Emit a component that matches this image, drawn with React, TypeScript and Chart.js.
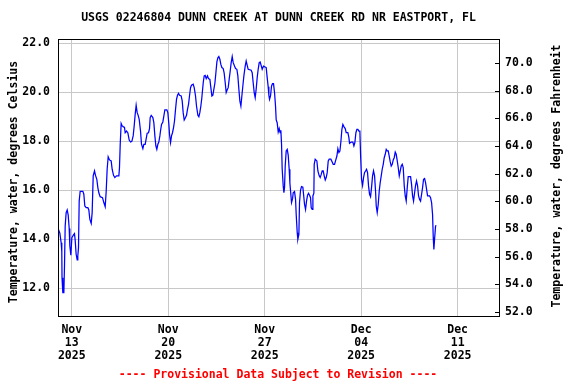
import React, { useEffect, useRef } from "react";
import { Chart, registerables } from "chart.js";

Chart.register(...registerables);

const chartTitle = "USGS 02246804 DUNN CREEK AT DUNN CREEK RD NR EASTPORT, FL";
const leftAxisTitle = "Temperature, water, degrees Celsius";
const rightAxisTitle = "Temperature, water, degrees Fahrenheit";
const footnote = "---- Provisional Data Subject to Revision ----";

// hours since 2025-11-12 00:00
const xTickHours = [24, 192, 360, 528, 696];
const xTickLabels = [
  ["Nov", "13", "2025"],
  ["Nov", "20", "2025"],
  ["Nov", "27", "2025"],
  ["Dec", "04", "2025"],
  ["Dec", "11", "2025"],
];
const celsiusTicks = [12, 14, 16, 18, 20, 22];
const fahrenheitTicks = [52, 54, 56, 58, 60, 62, 64, 66, 68, 70];

const readingHours = [
  0, 3.2, 5.5, 6.6, 7.0, 8.4, 10.2, 11.3, 12.5, 14.2,
  16.0, 17.7, 19.5, 20.6, 22.4, 24.1, 27.0, 28.7, 29.9, 31.6,
  33.4, 34.5, 35.7, 36.9, 38.6, 43.3, 45.0, 46.7, 49.1, 52.0,
  53.7, 55.4, 57.8, 59.5, 61.3, 63.6, 65.3, 67.6, 69.4, 71.1,
  73.4, 77.5, 79.8, 82.2, 83.9, 85.6, 87.4, 89.7, 92.6, 94.3,
  96.7, 99.0, 101.9, 106.0, 107.1, 108.3, 110.0, 111.8, 113.5, 115.8,
  117.0, 119.3, 121.6, 124.0, 126.3, 128.6, 130.9, 132.7, 134.4, 136.1,
  137.9, 139.6, 141.4, 143.7, 145.4, 147.8, 149.5, 151.8, 153.6, 155.3,
  157.6, 159.4, 160.5, 162.3, 165.2, 166.9, 168.7, 170.4, 172.1, 173.9,
  175.6, 177.4, 178.5, 180.3, 182.6, 184.3, 186.1, 189.6, 191.3, 193.1,
  194.2, 196.0, 197.7, 199.4, 201.2, 202.9, 204.7, 206.4, 208.1, 209.9,
  211.6, 214.5, 216.3, 218.0, 219.8, 222.1, 223.8, 225.6, 227.3, 229.0,
  230.8, 232.5, 235.4, 237.2, 239.5, 241.2, 243.6, 245.3, 247.0, 248.8,
  250.5, 252.9, 254.6, 256.3, 258.1, 260.4, 262.1, 264.5, 266.2, 268.0,
  269.7, 271.4, 273.2, 274.9, 276.7, 278.4, 280.1, 281.9, 283.6, 285.4,
  287.7, 289.4, 291.2, 292.9, 294.7, 296.4, 298.1, 299.9, 301.6, 303.4,
  305.1, 307.4, 309.2, 311.5, 313.2, 315.0, 316.7, 318.5, 320.2, 321.9,
  323.7, 326.0, 327.7, 329.5, 331.2, 336.4, 338.2, 339.9, 341.7, 343.4,
  345.2, 346.9, 348.6, 350.4, 352.1, 355.6, 357.9, 362.6, 364.3, 366.0,
  367.2, 368.4, 370.1, 371.9, 373.6, 375.3, 377.1, 378.8, 380.0, 381.7,
  383.5, 385.2, 386.9, 388.1, 389.3, 390.4, 392.2, 393.4, 394.5, 395.7,
  397.4, 399.2, 400.9, 402.6, 403.8, 405.0, 406.7, 408.5, 409.6, 411.9,
  413.7, 414.8, 416.6, 417.7, 419.5, 420.6, 422.4, 424.1, 426.4, 428.2,
  429.3, 431.1, 432.8, 434.6, 436.3, 438.1, 439.8, 441.0, 442.7, 443.9,
  445.6, 446.2, 447.9, 450.8, 452.6, 454.9, 456.6, 458.4, 460.1, 461.9,
  463.6, 465.4, 467.1, 468.8, 470.6, 472.3, 475.2, 477.5, 479.3, 481.6,
  483.3, 485.7, 487.4, 489.2, 490.9, 492.6, 494.4, 496.1, 497.9, 500.2,
  501.9, 504.8, 506.6, 507.7, 510.6, 513.5, 515.3, 517.0, 518.8, 520.5,
  522.2, 524.0, 525.7, 526.9, 528.6, 530.4, 532.1, 533.8, 535.6, 537.3,
  539.1, 540.8, 542.6, 544.3, 546.0, 547.8, 549.5, 551.3, 553.0, 554.2,
  555.9, 557.7, 559.4, 561.1, 562.9, 564.6, 566.4, 568.1, 569.9, 571.6,
  573.3, 575.1, 576.8, 578.6, 580.3, 582.1, 583.8, 585.5, 587.3, 589.0,
  590.8, 592.5, 594.3, 596.0, 597.7, 599.5, 601.2, 603.0, 604.7, 606.4,
  608.2, 609.9, 614.0, 615.7, 617.5, 619.2, 621.0, 622.7, 624.4, 626.2,
  627.9, 629.7, 631.4, 633.2, 634.9, 636.6, 638.4, 640.1, 641.9, 643.6,
  647.1, 648.8, 650.6, 652.3, 653.5, 654.6, 655.8, 657.5, 658.7,
];

const readingTempC = [
  14.45, 14.25, 13.86, 13.5, 12.43, 11.82, 11.82, 12.9, 14.54, 15.09,
  15.2, 15.0, 14.44, 13.73, 13.35, 14.07, 14.18, 14.23, 13.97, 13.39,
  13.16, 13.32, 13.66, 15.56, 15.96, 15.96, 15.84, 15.36, 15.29, 15.29,
  15.2, 14.82, 14.65, 15.09, 16.59, 16.79, 16.61, 16.45, 16.11, 15.9,
  15.74, 15.7, 15.5, 15.33, 15.95, 16.86, 17.37, 17.24, 17.2, 16.86,
  16.61, 16.52, 16.59, 16.59, 16.93, 17.84, 18.73, 18.63, 18.6, 18.57,
  18.35, 18.42, 18.35, 18.05, 17.97, 18.0, 18.22, 18.63, 19.1, 19.47,
  19.17, 19.06, 18.9, 18.42, 17.88, 17.7, 17.88, 17.88, 18.11, 18.33,
  18.35, 18.52, 18.97, 19.06, 18.97, 18.76, 18.22, 17.81, 17.67, 17.88,
  17.97, 18.22, 18.42, 18.69, 18.79, 19.03, 19.28, 19.28, 19.17, 18.69,
  18.29, 17.95, 18.22, 18.35, 18.56, 18.83, 19.31, 19.71, 19.88, 19.96,
  19.88, 19.85, 19.65, 19.17, 18.87, 18.97, 19.06, 19.31, 19.51, 19.85,
  20.19, 20.29, 20.33, 20.19, 19.85, 19.44, 19.06, 19.0, 19.17, 19.44,
  19.78, 20.39, 20.67, 20.69, 20.56, 20.67, 20.56, 20.53, 20.19, 19.85,
  19.88, 20.12, 20.37, 20.78, 21.24, 21.41, 21.46, 21.35, 21.14, 21.01,
  20.97, 20.78, 20.39, 19.99, 20.1, 20.19, 20.53, 20.87, 21.21, 21.46,
  21.21, 21.07, 20.97, 20.94, 20.67, 20.12, 19.65, 19.44, 19.85, 20.26,
  20.67, 21.07, 21.28, 21.1, 20.94, 20.9, 20.8, 20.39, 19.99, 19.78,
  20.15, 20.6, 20.94, 21.21, 21.24, 20.94, 21.07, 21.01, 20.6, 20.23,
  19.88, 19.71, 19.85, 20.26, 20.35, 20.35, 19.99, 19.44, 18.87, 18.76,
  18.38, 18.52, 18.35, 18.45, 17.88, 16.88, 16.18, 15.9, 16.11, 16.99,
  17.61, 17.67, 17.44, 16.86, 16.31, 15.97, 15.5, 15.66, 15.9, 15.95,
  15.63, 15.02, 14.27, 14.0, 14.2, 15.5, 16.01, 16.15, 16.13, 15.7,
  15.43, 15.22, 15.56, 15.8, 15.88, 15.8, 15.7, 15.29, 15.22, 15.77,
  15.88, 17.06, 17.27, 17.2, 16.79, 16.59, 16.52, 16.65, 16.79, 16.79,
  16.59, 16.42, 16.52, 16.72, 17.2, 17.27, 17.27, 17.16, 17.06, 17.06,
  17.2, 17.4, 17.7, 17.54, 17.6, 17.97, 18.49, 18.69, 18.6, 18.52,
  18.35, 18.35, 18.15, 17.92, 17.97, 17.97, 17.81, 17.95, 18.35, 18.49,
  18.49, 18.42, 18.42, 17.47, 16.45, 16.2, 16.52, 16.72, 16.79, 16.86,
  16.72, 16.18, 15.84, 15.74, 16.11, 16.59, 16.79, 16.59, 15.97, 15.36,
  15.09, 15.43, 15.97, 16.31, 16.59, 16.86, 17.06, 17.33, 17.47, 17.67,
  17.61, 17.61, 17.4, 17.16, 16.99, 17.06, 17.24, 17.33, 17.56, 17.47,
  17.2, 16.93, 16.59, 16.79, 16.99, 17.06, 16.93, 16.18, 15.77, 15.56,
  16.11, 16.56, 16.56, 16.24, 15.77, 15.56, 15.9, 16.2, 16.38, 16.18,
  15.77, 15.63, 15.56, 15.84, 16.11, 16.45, 16.48, 16.31, 16.04, 15.77,
  15.77, 15.7, 15.5, 15.02, 14.07, 13.59, 14.0, 14.54, 14.57,
];

const FONT_FAMILY = "'DejaVu Sans Mono', 'Liberation Mono', monospace";
const GRID_COLOR = "#c8c8c8";

const decorPlugin = {
  id: "usgsDecor",
  beforeDraw(chart: any) {
    const { ctx, width, height } = chart;
    ctx.save();
    ctx.fillStyle = "#ffffff";
    ctx.fillRect(0, 0, width, height);
    ctx.restore();
  },
  afterDraw(chart: any) {
    const { ctx, chartArea } = chart;
    const { left, right, top, bottom } = chartArea;
    ctx.save();
    // frame
    ctx.strokeStyle = "#000000";
    ctx.lineWidth = 1;
    ctx.strokeRect(Math.round(left) + 0.5, Math.round(top) + 0.5, Math.round(right - left), Math.round(bottom - top));
    // right axis inward tick marks
    const y2 = chart.scales.y2;
    ctx.beginPath();
    for (const v of fahrenheitTicks) {
      const py = Math.round(y2.getPixelForValue(v)) + 0.5;
      ctx.moveTo(Math.round(right) - 4, py);
      ctx.lineTo(Math.round(right) + 1, py);
    }
    ctx.stroke();

    ctx.fillStyle = "#000000";
    ctx.textAlign = "center";
    ctx.textBaseline = "middle";
    ctx.font = `bold 11.5px ${FONT_FAMILY}`;
    ctx.fillText(chartTitle, (left + right) / 2, 18);

    ctx.save();
    ctx.translate(14, 182);
    ctx.rotate(-Math.PI / 2);
    ctx.fillText(leftAxisTitle, 0, 0);
    ctx.restore();

    ctx.save();
    ctx.translate(557, 176);
    ctx.rotate(-Math.PI / 2);
    ctx.fillText(rightAxisTitle, 0, 0);
    ctx.restore();

    ctx.fillStyle = "#ff0000";
    ctx.fillText(footnote, 278, 375);
    ctx.restore();
  },
};

export default function App() {
  const canvasRef = useRef<HTMLCanvasElement | null>(null);

  useEffect(() => {
    if (!canvasRef.current) return;
    const n = Math.min(readingHours.length, readingTempC.length);
    const points = [];
    for (let i = 0; i < n; i++) points.push({ x: readingHours[i], y: readingTempC[i] });

    const tickFont = { family: FONT_FAMILY, size: 11.5, weight: "bold" as const, lineHeight: 1.13 };

    const chart = new Chart(canvasRef.current, {
      type: "line",
      data: {
        datasets: [
          {
            data: points,
            borderColor: "#0000ff",
            borderWidth: 1.25,
            pointRadius: 0,
            tension: 0,
            fill: false,
            yAxisID: "y",
          },
        ],
      },
      plugins: [decorPlugin],
      options: {
        animation: false,
        responsive: false,
        events: [],
        layout: { padding: { top: 39, left: 0, right: 0, bottom: 0 } },
        plugins: {
          legend: { display: false },
          tooltip: { enabled: false },
          title: { display: false },
        },
        scales: {
          x: {
            type: "linear",
            position: "bottom",
            min: 0,
            max: 768,
            afterBuildTicks: (s: any) => {
              s.ticks = xTickHours.map((v) => ({ value: v }));
            },
            afterFit: (s: any) => {
              s.height = 68;
            },
            ticks: {
              autoSkip: false,
              maxRotation: 0,
              padding: 7.5,
              color: "#000000",
              font: tickFont,
              callback: (v: any) => {
                const i = xTickHours.indexOf(Number(v));
                return i >= 0 ? xTickLabels[i] : "";
              },
            },
            grid: { color: GRID_COLOR, lineWidth: 1, drawTicks: false },
            border: { display: false },
          },
          y: {
            type: "linear",
            position: "left",
            min: 10.87,
            max: 22.176,
            afterBuildTicks: (s: any) => {
              s.ticks = celsiusTicks.map((v) => ({ value: v }));
            },
            afterFit: (s: any) => {
              s.width = 58;
            },
            ticks: {
              padding: 8,
              color: "#000000",
              font: tickFont,
              callback: (v: any) => Number(v).toFixed(1),
            },
            grid: { color: GRID_COLOR, lineWidth: 1, drawTicks: false },
            border: { display: false },
          },
          y2: {
            type: "linear",
            position: "right",
            min: 51.71,
            max: 71.735,
            afterBuildTicks: (s: any) => {
              s.ticks = fahrenheitTicks.map((v) => ({ value: v }));
            },
            afterFit: (s: any) => {
              s.width = 77;
            },
            ticks: {
              padding: 6,
              color: "#000000",
              font: tickFont,
              callback: (v: any) => Number(v).toFixed(1),
            },
            grid: { drawOnChartArea: false, drawTicks: false },
            border: { display: false },
          },
        },
      },
    } as any);

    return () => chart.destroy();
  }, []);

  return (
    <div style={{ position: "fixed", left: 0, top: 0, width: 576, height: 384, background: "#ffffff" }}>
      <canvas ref={canvasRef} width={576} height={384} style={{ display: "block", width: 576, height: 384 }} />
    </div>
  );
}
